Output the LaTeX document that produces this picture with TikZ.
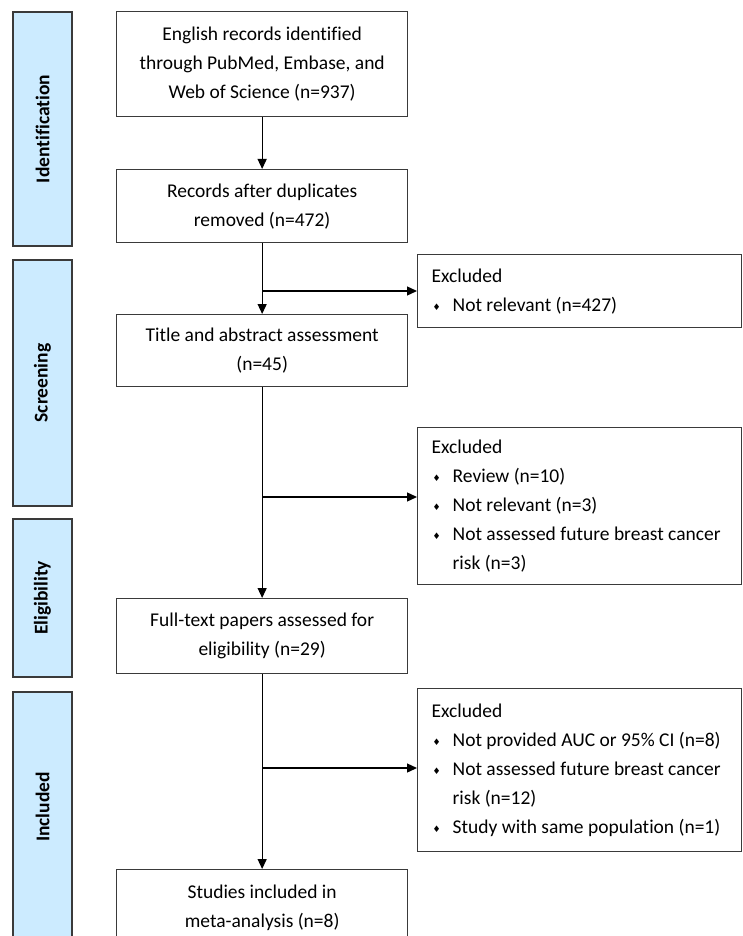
\documentclass[tikz,border=0pt]{standalone}
\usepackage{fontspec}
\setmainfont{Carlito}[Ligatures=NoCommon]
\newfontfamily\symfont{DejaVu Sans}
\usetikzlibrary{arrows.meta}
\definecolor{barblue}{HTML}{CCEBFF}
\definecolor{edge}{HTML}{3A3A3A}
\newcommand{\bul}{\makebox[21pt][l]{\hspace*{1pt}\raisebox{1pt}{\symfont\fontsize{9}{9}\selectfont ♦}}}
\newcommand{\exlist}[1]{\begin{tabular}{@{}l@{}l@{}}\multicolumn{2}{@{}l@{}}{Excluded}\\#1\end{tabular}}
\tikzset{
  base/.style={draw=edge,line width=1.3pt,inner sep=0pt,
               font=\fontsize{19.5}{29}\selectfont},
  mainbox/.style={base,anchor=north west,minimum width=291pt,align=center},
  exbox/.style={base,anchor=north west,minimum width=324pt,inner xsep=14pt,
                text width=296pt,align=flush left},
  phase/.style={base,fill=barblue,minimum height=59pt,rotate=90,
                font=\fontsize{19.5}{29}\selectfont\bfseries},
  flow/.style={-{Triangle[length=10pt,width=9pt]},line width=1.3pt,draw=black}
}

\begin{document}
\begin{tikzpicture}[x=1pt,y=-1pt]
    \clip (0,0) rectangle (743,936);

    % phases on the left
    \node[phase,minimum width=234pt] (pIdent) at (42.5,129) {Identification};
    \node[phase,minimum width=246pt] (pScreen) at (42.5,383) {Screening};
    \node[phase,minimum width=158pt] (pElig) at (42.5,598) {Eligibility};
    \node[phase,minimum width=258pt] (pIncl) at (42.5,821) {\hspace*{28pt}Included};

    % main flow
    \node[mainbox,minimum height=105pt] (rec) at (116,11) {English records identified\\through PubMed, Embase, and\\Web of Science (n=937)};
    \node[mainbox,minimum height=73pt] (dup) at (116,169) {Records after duplicates\\removed (n=472)};
    \node[mainbox,minimum height=72pt] (tia) at (116,314) {Title and abstract assessment\\(n=45)};
    \node[mainbox,minimum height=75pt] (ful) at (116,598) {Full-text papers assessed for\\eligibility (n=29)};
    \node[mainbox,minimum height=77pt] (inc) at (116,869) {Studies included in\\meta-analysis (n=8)};

    \draw[flow] (rec) -- (dup);
    \draw[flow] (dup) -- (tia);
    \draw[flow] (tia) -- (ful);
    \draw[flow] (ful) -- (inc);

    % exclusions
    \node[exbox,minimum height=73pt] (exA) at (417,254) {\exlist{\bul & Not relevant (n=427)}};
    \node[exbox,minimum height=157pt] (exB) at (417,427) {\exlist{\bul & Review (n=10)\\\bul & Not relevant (n=3)\\\bul & Not assessed future breast cancer\\ & risk (n=3)}};
    \node[exbox,minimum height=163pt] (exC) at (417,688) {\exlist{\bul & Not provided AUC or 95\% CI (n=8)\\\bul & Not assessed future breast cancer\\ & risk (n=12)\\\bul & Study with same population (n=1)}};

    \coordinate (jA) at (262,291);
    \coordinate (jB) at (262,497);
    \coordinate (jC) at (262,768);
    \draw[flow] (jA) -- (jA -| exA.west);
    \draw[flow] (jB) -- (jB -| exB.west);
    \draw[flow] (jC) -- (jC -| exC.west);
\end{tikzpicture}
\end{document}
